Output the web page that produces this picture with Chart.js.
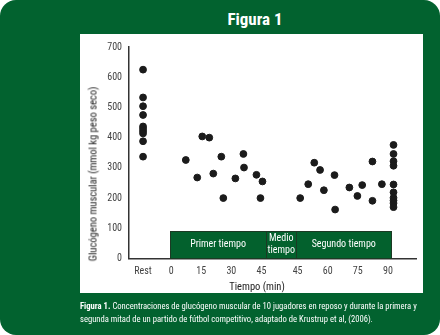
<!DOCTYPE html>
<html>
<head>
<meta charset="utf-8">
<script src="https://cdn.jsdelivr.net/npm/chart.js@4"></script>
<style>
  html, body { margin: 0; padding: 0; background: #fff; }
  .frame {
    position: absolute; left: 0; top: 0; width: 440px; height: 335px;
    background: #02622f; border-radius: 16px; overflow: hidden;
    font-family: "Roboto Condensed", "Liberation Sans", sans-serif;
  }
  .title {
    position: absolute; left: 200px; top: 8px; width: 110px; text-align: center;
    color: #fff; font-weight: bold; font-size: 17px; line-height: 22px;
  }
  .panel {
    position: absolute; left: 80px; top: 34px; width: 343px; height: 259px; background: #fff;
  }
  .panel canvas { position: absolute; left: 0; top: 0; }
  .ytitle {
    position: absolute; left: 13px; top: 140px; white-space: nowrap;
    transform: translate(-50%, -50%) rotate(-90deg);
    font-size: 10.5px; color: #222;
  }
  .xtitle {
    position: absolute; left: 177px; top: 252px; white-space: nowrap;
    transform: translate(-50%, -50%);
    font-size: 10.5px; color: #222;
  }
  .caption {
    position: absolute; left: 80px; top: 300px; white-space: nowrap;
    color: #fff; font-size: 8.6px; line-height: 12.6px;
  }
</style>
</head>
<body>
<div class="frame">
  <div class="title">Figura 1</div>
  <div class="panel">
    <canvas id="chart" width="343" height="259"></canvas>
    <div class="ytitle">Glucógeno muscular (mmol kg peso seco)</div>
    <div class="xtitle">Tiempo (min)</div>
  </div>
  <div class="caption"><b>Figura 1.</b> Concentraciones de glucógeno muscular de 10 jugadores en reposo y durante la primera y<br>segunda mitad de un partido de fútbol competitivo, adaptado de Krustrup et al, (2006).</div>
</div>
<script>
// glycogen at rest (one value per player)
const restValues = [625, 533, 504, 475, 437, 430, 422, 414, 388, 337];

// [minute, glycogen] samples taken during each half
const firstHalf = [
  [7.3, 326], [13, 268], [15.5, 404], [19, 400], [21, 281], [25, 337], [26, 200],
  [32, 265], [36, 346], [36.3, 301], [42.5, 277], [44.5, 200], [45.5, 255]
];
const secondHalf = [
  [46.3, 200], [50.3, 246], [53.3, 317], [56.2, 293], [58.1, 226], [63.4, 276],
  [63.7, 162], [70.8, 235], [74.8, 207], [77.2, 243], [82.3, 321], [82.3, 191], [87, 246],
  [92.8, 376], [92.8, 346], [92.8, 322], [92.8, 307], [92.8, 245], [92.8, 219],
  [92.8, 201], [92.8, 192], [92.8, 183], [92.8, 170]
];

// x axis: rest column sits left of kick-off, half-time gap pushes the 2nd half right
const REST_X = -14;
const HALF_GAP = 18;
const tickMinutes = [0, 15, 30, 45];
const tickLabels2 = ['45', '60', '75', '90'];
const tickMinutes2 = [45, 60, 75, 90];

// match phase bands along the bottom
const phaseNames = ['Primer tiempo', ['Medio', 'tiempo'], 'Segundo tiempo'];
const phaseEdges = [-0.5, 47.3, 62.4, 109.6];
const phaseTop = 91;

const points = [
  ...restValues.map(v => ({ x: REST_X, y: v })),
  ...firstHalf.map(([m, v]) => ({ x: m, y: v })),
  ...secondHalf.map(([m, v]) => ({ x: m + HALF_GAP, y: v }))
];

const xTicks = [
  { value: REST_X, label: 'Rest' },
  ...tickMinutes.map(m => ({ value: m, label: String(m) })),
  ...tickMinutes2.map((m, i) => ({ value: m + HALF_GAP, label: tickLabels2[i] }))
];

const phaseBands = {
  id: 'phaseBands',
  beforeDatasetsDraw(chart) {
    const { ctx, scales: { x, y } } = chart;
    const y0 = y.getPixelForValue(0);
    const y1 = y.getPixelForValue(phaseTop);
    ctx.save();
    phaseNames.forEach((name, i) => {
      const x0 = x.getPixelForValue(phaseEdges[i]);
      const x1 = x.getPixelForValue(phaseEdges[i + 1]);
      ctx.fillStyle = '#03612d';
      ctx.fillRect(x0, y1, x1 - x0, y0 - y1);
      ctx.strokeStyle = '#1c3a24';
      ctx.lineWidth = 1;
      ctx.strokeRect(Math.round(x0) + 0.5, Math.round(y1) + 0.5, Math.round(x1 - x0), Math.round(y0 - y1));
      ctx.fillStyle = '#fff';
      ctx.font = '10px "Roboto Condensed", sans-serif';
      ctx.textAlign = 'center';
      ctx.textBaseline = 'middle';
      const lines = Array.isArray(name) ? name : [name];
      const cx = (x0 + x1) / 2;
      const cy = (y0 + y1) / 2 - 0.5;
      lines.forEach((t, j) => {
        ctx.fillText(t, cx, cy + (j - (lines.length - 1) / 2) * 11.7);
      });
    });
    ctx.restore();
  }
};

const tickFont = { family: '"Roboto Condensed", sans-serif', size: 10 };

new Chart(document.getElementById('chart'), {
  type: 'scatter',
  data: {
    datasets: [{
      data: points,
      backgroundColor: '#1b1b1b',
      borderColor: '#1b1b1b',
      pointRadius: 3.4,
      pointHoverRadius: 3.4
    }]
  },
  options: {
    responsive: false,
    animation: false,
    layout: { padding: { left: 0, right: 7, top: 13, bottom: 0 } },
    plugins: { legend: { display: false }, tooltip: { enabled: false } },
    scales: {
      x: {
        type: 'linear', min: -21, max: 122,
        grid: { display: false, drawTicks: false },
        border: { color: '#333', width: 1.5 },
        afterBuildTicks: s => { s.ticks = xTicks.map(t => ({ value: t.value })); },
        ticks: {
          font: tickFont, color: '#444', padding: 7, maxRotation: 0, autoSkip: false,
          callback: (v, i) => xTicks[i].label
        },
        afterFit: s => { s.height = 34.5; }
      },
      y: {
        min: 0, max: 700,
        grid: { display: false, drawTicks: false },
        border: { color: '#333', width: 1.5 },
        ticks: { stepSize: 100, font: tickFont, color: '#444', padding: 7 },
        afterFit: s => { s.width = 49; }
      }
    }
  },
  plugins: [phaseBands]
});
</script>
</body>
</html>
